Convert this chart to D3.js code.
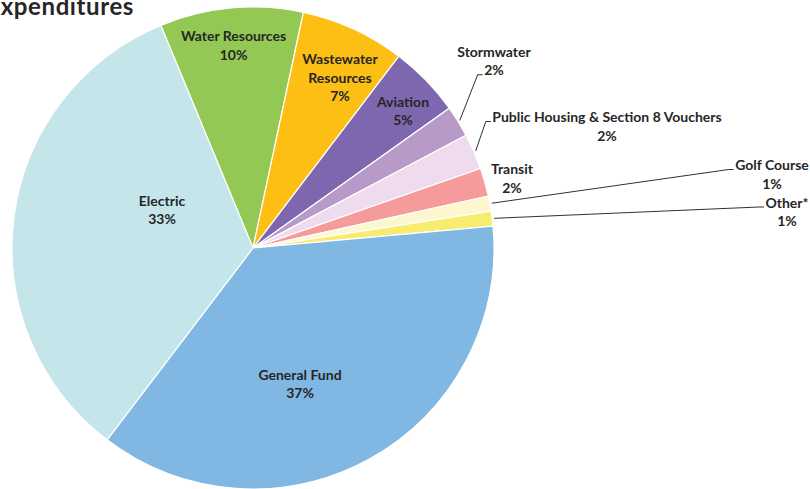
<!DOCTYPE html>
<html>
<head>
<meta charset="utf-8">
<script src="https://cdn.jsdelivr.net/npm/d3@7"></script>
<style>
  html, body { margin: 0; padding: 0; background: #ffffff; }
  svg { display: block; }
  text { font-family: Lato, "Open Sans", sans-serif; font-weight: 700; fill: #262626; }
</style>
</head>
<body>
<svg id="chart" width="810" height="489"></svg>
<script>
// Expenditure shares by fund (percent), clockwise from the top
const categories = [
  "Water Resources", "Wastewater Resources", "Aviation", "Stormwater",
  "Public Housing & Section 8 Vouchers", "Transit", "Golf Course", "Other*",
  "General Fund", "Electric"
];
const shares = [9.6, 7.0, 4.8, 2.1, 2.4, 1.9, 1.0, 1.0, 36.8, 33.4];
const colors = [
  "#92c853", "#fdbf14", "#7e67ae", "#b89ac9",
  "#eedcee", "#f59b9b", "#fcf7cc", "#f8ec70",
  "#80b8e3", "#c4e6ea"
];
const title = "Expenditures";

// ---- layout ----
const W = 810, H = 489;
const cx = 253, cy = 248, R = 241;
const startDeg = -22.5;
const lineH = 18.5;

// label block centres, as offsets from the pie centre
const labelOffsets = {
  "Water Resources": [-19.5, -203],
  "Wastewater Resources": [87, -171],
  "Aviation": [150, -137.5],
  "Stormwater": [241, -187.3],
  "Public Housing & Section 8 Vouchers": [354, -122],
  "Transit": [259, -70],
  "Golf Course": [519, -74],
  "Other*": [534, -36.5],
  "General Fund": [47, 135.5],
  "Electric": [-91, -38.5]
};
// line breaks for long names
const nameLines = { "Wastewater Resources": ["Wastewater", "Resources"] };
// slices whose labels sit outside and get a leader line (value = line the leader meets)
const leaderLine = { "Stormwater": 1, "Public Housing & Section 8 Vouchers": 0, "Golf Course": 0, "Other*": 0 };

const svg = d3.select("#chart");
const g = svg.append("g").attr("transform", `translate(${cx},${cy})`);

const rows = categories.map((c, i) => ({ name: c, value: shares[i], color: colors[i] }));

const pie = d3.pie()
  .sort(null)
  .value(d => d.value)
  .startAngle(startDeg * Math.PI / 180)
  .endAngle((startDeg + 360) * Math.PI / 180);

const arc = d3.arc().innerRadius(0).outerRadius(R);
const edgeArc = d3.arc().innerRadius(R + 2).outerRadius(R + 2);

const arcs = pie(rows);

g.selectAll("path.slice")
  .data(arcs)
  .join("path")
  .attr("class", "slice")
  .attr("d", arc)
  .attr("fill", d => d.data.color)
  .attr("stroke", "#ffffff")
  .attr("stroke-width", 1.2);

const pct = v => d3.format(".0f")(v) + "%";

const labels = g.selectAll("g.label")
  .data(arcs)
  .join("g")
  .attr("class", "label")
  .attr("transform", d => {
    const o = labelOffsets[d.data.name];
    return `translate(${o[0]},${o[1]})`;
  });

labels.each(function (d) {
  const lines = (nameLines[d.data.name] || [d.data.name]).concat([pct(d.data.value)]);
  const n = lines.length;
  d3.select(this).selectAll("text")
    .data(lines)
    .join("text")
    .attr("text-anchor", "middle")
    .attr("dominant-baseline", "central")
    .attr("y", (t, i) => (i - (n - 1) / 2) * lineH)
    .style("font-size", "14px")
    .text(t => t);
});

// leader lines: from the slice edge to the left side of the label, with a short horizontal tick
labels.each(function (d) {
  if (!(d.data.name in leaderLine)) return;
  const o = labelOffsets[d.data.name];
  const t = d3.select(this).selectAll("text").nodes()[leaderLine[d.data.name]];
  const bb = t.getBBox();
  const endX = o[0] + bb.x - 1.5;
  const endY = o[1] + bb.y + bb.height * 0.78;
  const [sx, sy] = edgeArc.centroid(d);
  g.append("path")
    .attr("d", d3.line()([[sx, sy], [endX - 5, endY], [endX, endY]]))
    .attr("fill", "none")
    .attr("stroke", "#1a1a1a")
    .attr("stroke-width", 0.9);
});

svg.append("text")
  .attr("x", 134)
  .attr("y", 15)
  .attr("text-anchor", "end")
  .style("font-size", "24px")
  .style("letter-spacing", "0.6px")
  .text(title);
</script>
</body>
</html>
